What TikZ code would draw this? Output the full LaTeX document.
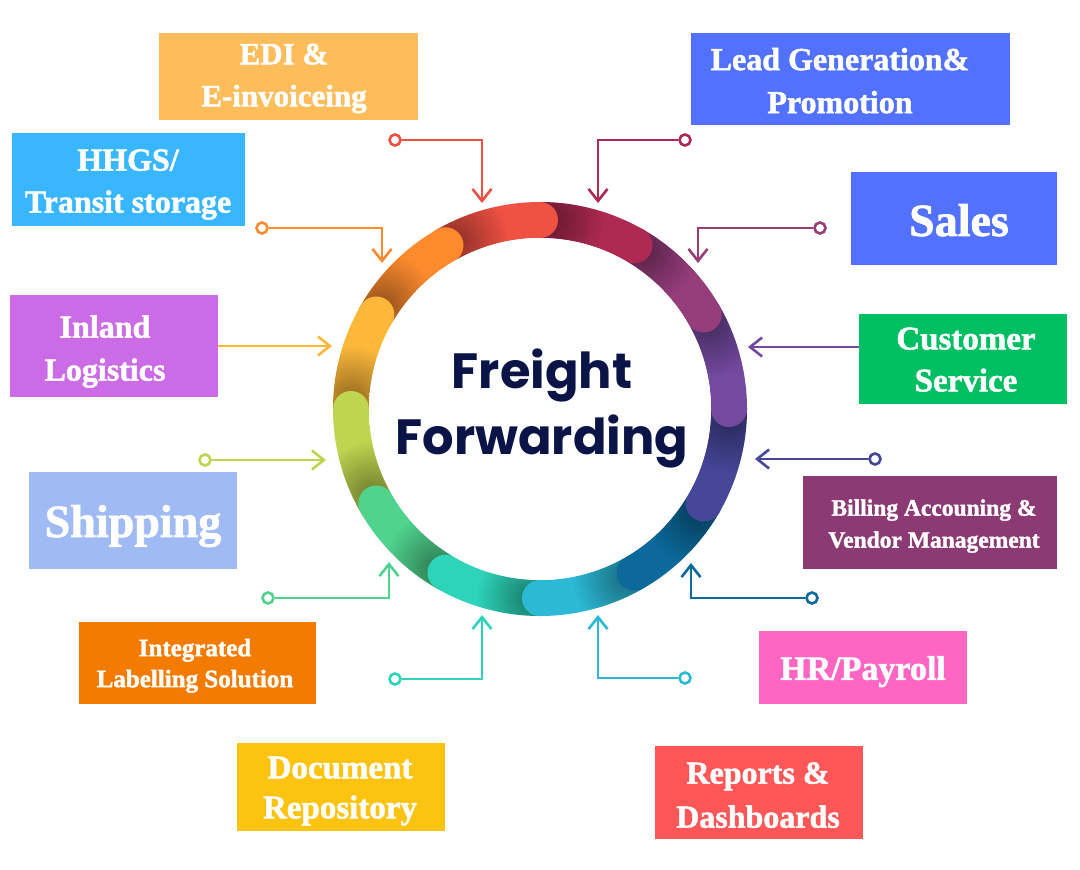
\documentclass[tikz,border=0pt]{standalone}
\usepackage{fontspec}
\setmainfont{Liberation Serif}[BoldFeatures={FakeBold=1.5}]
\newfontfamily\popfont{Poppins}
\usetikzlibrary{arrows.meta,fadings}

\definecolor{segA}{HTML}{AE2A53}
\definecolor{segB}{HTML}{963D7C}
\definecolor{segC}{HTML}{744AA0}
\definecolor{segD}{HTML}{464799}
\definecolor{segE}{HTML}{0B6A9B}
\definecolor{segF}{HTML}{2CB9D6}
\definecolor{segG}{HTML}{2DD4B9}
\definecolor{segH}{HTML}{50D38D}
\definecolor{segI}{HTML}{BFD44F}
\definecolor{segJ}{HTML}{FDB83A}
\definecolor{segK}{HTML}{FD8B2E}
\definecolor{segL}{HTML}{EF5143}
\definecolor{navy}{HTML}{0B1446}

\definecolor{bxEDI}{HTML}{FDBD5B}
\definecolor{bxHHGS}{HTML}{38B6FF}
\definecolor{bxLead}{HTML}{5271FF}
\definecolor{bxCS}{HTML}{00BF63}
\definecolor{bxBill}{HTML}{8C3A73}
\definecolor{bxHR}{HTML}{FF66C4}
\definecolor{bxRep}{HTML}{FF5757}
\definecolor{bxDoc}{HTML}{FCC410}
\definecolor{bxILS}{HTML}{F27B00}
\definecolor{bxShip}{HTML}{A0BBF3}
\definecolor{bxInland}{HTML}{CB6CE6}

\pgfdeclareradialshading{innerglow}{\pgfpoint{0bp}{0bp}}{color(0bp)=(white); color(37bp)=(white); color(51bp)=(black!30); color(53bp)=(black!30)}
\tikzfading[name=softdot, inner color=transparent!0, outer color=transparent!100]

\tikzset{
  panel/.style={rectangle, fill=#1, draw=none, inner sep=0pt},
  boxtxt/.style 2 args={text=white, align=center, inner sep=0pt, text depth=0pt,
     font=\bfseries\fontsize{#1}{#2}\selectfont},
  conn/.style={draw=#1, line width=2.6pt, -{Straight Barb[length=12pt,width=19pt]}},
  dot/.style={circle, draw=#1, fill=white, line width=2.6pt, minimum size=11pt, inner sep=0pt},
}

\begin{document}
\begin{tikzpicture}[x=1pt,y=-1pt]
\fill[white] (0,0) rectangle (1080,870);
\useasboundingbox (0,0) rectangle (1080,870);

\coordinate (C) at (540,409);

% ring bodies
\foreach \c [count=\k from 0] in {segA,segB,segC,segD,segE,segF,segG,segH,segI,segJ,segK,segL} {
  \pgfmathsetmacro\a{-91+30*\k}
  \draw[line width=36pt, color=\c] ([shift={(\a:189)}]C) arc[start angle=\a, end angle=\a+31, radius=189];
}
% shadows cast by each cap on the following segment
\foreach \k in {0,...,11} {
  \pgfmathsetmacro\b{-60+30*\k}
  \pgfmathsetmacro\s{\b+3}
  \pgfmathsetmacro\e{\b+40}
  \begin{scope}
    \clip (C) -- ([shift={(\b:260)}]C) arc[start angle=\b, end angle=\e, radius=260] -- cycle;
    \clip (C) circle (207);
    \fill[black, opacity=0.42, path fading=softdot] ([shift={(\s:189)}]C) circle (54);
  \end{scope}
}
% caps
\foreach \c [count=\k from 0] in {segA,segB,segC,segD,segE,segF,segG,segH,segI,segJ,segK,segL} {
  \pgfmathsetmacro\b{-60+30*\k}
  \fill[color=\c] ([shift={(\b:189)}]C) circle (18);
}
% inner disc
\shade[shading=innerglow] (C) circle (171);
\node[font=\popfont\bfseries\fontsize{49.5}{66}\selectfont, text=navy, align=center, inner sep=0pt, text depth=0pt] (hub) at (542,402) {Freight\\Forwarding};

% boxes
\node[panel=bxEDI, minimum width=259pt, minimum height=87pt] (edi) at (288.5,76.5) {};
\node[boxtxt={31}{42}] (ediText) at (284,75) {EDI \&\\E-invoiceing};

\node[panel=bxHHGS, minimum width=233pt, minimum height=93pt] (hhgs) at (128.5,179.5) {};
\node[boxtxt={32}{42}] (hhgsText) at (128,181) {HHGS/\\Transit storage};

\node[panel=bxLead, minimum width=319pt, minimum height=92pt] (lead) at (850.5,79) {};
\node[boxtxt={32}{43}] (leadText) at (840,80.5) {Lead Generation\&\\Promotion};

\node[panel=bxLead, minimum width=206pt, minimum height=93pt] (sales) at (954,218.5) {};
\node[boxtxt={46}{50}] (salesText) at (959,220) {Sales};

\node[panel=bxCS, minimum width=208pt, minimum height=90pt] (cs) at (963,359) {};
\node[boxtxt={33}{42}] (csText) at (966,359.5) {Customer\\Service};

\node[panel=bxBill, minimum width=254pt, minimum height=93pt] (bill) at (930,522.5) {};
\node[boxtxt={23.5}{32}] (billText) at (934,523.5) {Billing Accouning \&\\Vendor Management};

\node[panel=bxHR, minimum width=208pt, minimum height=73pt] (hr) at (863,667.5) {};
\node[boxtxt={34}{40}] (hrText) at (863,668) {HR/Payroll};

\node[panel=bxRep, minimum width=208pt, minimum height=93pt] (rep) at (759,792.5) {};
\node[boxtxt={32}{44}] (repText) at (758,795) {Reports \&\\Dashboards};

\node[panel=bxDoc, minimum width=208pt, minimum height=88pt] (doc) at (341,787) {};
\node[boxtxt={33}{40}] (docText) at (340,787.5) {Document\\Repository};

\node[panel=bxILS, minimum width=237pt, minimum height=82pt] (ils) at (197.5,663) {};
\node[boxtxt={25}{31}] (ilsText) at (195,663) {Integrated\\Labelling Solution};

\node[panel=bxShip, minimum width=208pt, minimum height=97pt] (ship) at (133,520.5) {};
\node[boxtxt={46}{50}] (shipText) at (133,521) {Shipping};

\node[panel=bxInland, minimum width=208pt, minimum height=102pt] (inland) at (114,346) {};
\node[boxtxt={32}{43}] (inlandText) at (105,348) {Inland\\Logistics};

% connector end points
\coordinate (ediTip) at (482,203);
\coordinate (leadTip) at (598,203);
\coordinate (salesTip) at (698,263);
\coordinate (csTip) at (748,347);
\coordinate (billTip) at (755,459);
\coordinate (hrTip) at (691,563);
\coordinate (repTip) at (598,615);
\coordinate (docTip) at (482,615);
\coordinate (ilsTip) at (389,562);
\coordinate (shipTip) at (326,460);
\coordinate (inlandTip) at (332,346);
\coordinate (hhgsTip) at (382,263);

% dots
\node[dot=segL] (ediDot) at (395,140) {};
\node[dot=segA] (leadDot) at (685,140) {};
\node[dot=segB] (salesDot) at (820,228) {};
\node[dot=segD] (billDot) at (875,459) {};
\node[dot=segE] (hrDot) at (812,598) {};
\node[dot=segF] (repDot) at (685,678) {};
\node[dot=segG] (docDot) at (395,679) {};
\node[dot=segH] (ilsDot) at (268,598) {};
\node[dot=segI] (shipDot) at (205,460) {};
\node[dot=segK] (hhgsDot) at (262,228) {};

% connectors
\draw[conn=segL] (ediDot) -| (ediTip);
\draw[conn=segA] (leadDot) -| (leadTip);
\draw[conn=segB] (salesDot) -| (salesTip);
\draw[conn=segC] (cs.west |- csTip) -- (csTip);
\draw[conn=segD] (billDot) -- (billTip);
\draw[conn=segE] (hrDot) -| (hrTip);
\draw[conn=segF] (repDot) -| (repTip);
\draw[conn=segG] (docDot) -| (docTip);
\draw[conn=segH] (ilsDot) -| (ilsTip);
\draw[conn=segI] (shipDot) -- (shipTip);
\draw[conn=segJ] (inland.east |- inlandTip) -- (inlandTip);
\draw[conn=segK] (hhgsDot) -| (hhgsTip);
\end{tikzpicture}
\end{document}
